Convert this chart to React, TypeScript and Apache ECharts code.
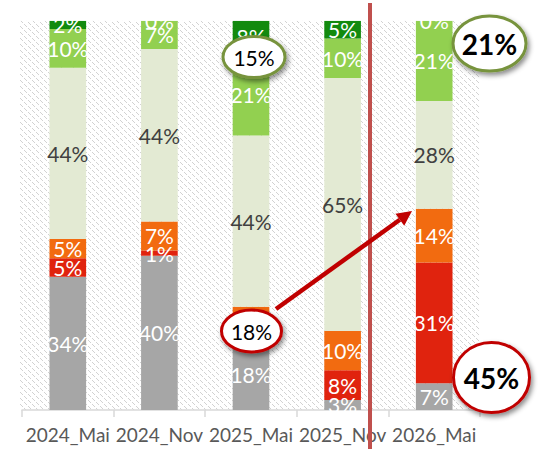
import React, { useEffect, useRef } from "react";
import * as echarts from "echarts";

const categories = ["2024_Mai", "2024_Nov", "2025_Mai", "2025_Nov", "2026_Mai"];
const greySeg = [34.2, 39.6, 18.0, 2.6, 6.9];
const redSeg = [4.8, 1.4, 3.0, 7.6, 31.0];
const orangeSeg = [4.9, 7.4, 5.5, 10.1, 13.8];
const creamSeg = [44.0, 44.3, 44.0, 65.0, 27.7];
const lightGreenSeg = [10.0, 7.3, 21.2, 10.1, 20.6];
const darkGreenSeg = [2.1, 0, 8.3, 4.6, 0];

const calloutTexts = ["15%", "21%", "18%", "45%"];

const FONT = "Lato, 'Liberation Sans', sans-serif";

function makeHatch(): HTMLCanvasElement {
  const c = document.createElement("canvas");
  c.width = 12;
  c.height = 12;
  const ctx = c.getContext("2d")!;
  ctx.fillStyle = "#ffffff";
  ctx.fillRect(0, 0, 12, 12);
  ctx.fillStyle = "#d2d2d2";
  for (let i = 0; i < 12; i++) {
    if (i % 4 === 3) continue;
    ctx.fillRect(i, i, 1, 1);
    ctx.fillRect(i, (i + 6) % 12, 1, 1);
  }
  return c;
}

export default function App() {
  const ref = useRef<HTMLDivElement>(null);
  useEffect(() => {
    document.body.style.margin = "0";
    if (!ref.current) return;
    const chart = echarts.init(ref.current, undefined, { renderer: "svg" });

    const mk = (name: string, data: number[], color: string, labelColor: string) => ({
      name,
      type: "bar",
      stack: "total",
      barWidth: "40%",
      data,
      itemStyle: { color },
      label: {
        show: true,
        position: "inside",
        formatter: (p: any) => Math.round(p.value) + "%",
        color: labelColor,
        fontSize: 21,
        fontFamily: FONT,
      },
    });

    const gridLeft = 22;
    const gridTop = 20.7;
    const gridW = 458;
    const gridH = 389.3;

    const tail = [276, 309];
    const tip = [412, 211];
    const dx = tip[0] - tail[0];
    const dy = tip[1] - tail[1];
    const len = Math.sqrt(dx * dx + dy * dy);
    const ux = dx / len;
    const uy = dy / len;
    const px = -uy;
    const py = ux;
    const hl = 15;
    const hw = 7.5;
    const base = [tip[0] - ux * hl, tip[1] - uy * hl];

    const ellipse = (cx: number, cy: number, rx: number, ry: number, stroke: string, text: string, bold: boolean, fs: number) => [
      {
        type: "ellipse",
        z: 70,
        shape: { cx, cy, rx, ry },
        style: {
          fill: "#ffffff",
          stroke,
          lineWidth: 3,
          shadowBlur: 5,
          shadowOffsetX: 2,
          shadowOffsetY: 3,
          shadowColor: "rgba(0,0,0,0.45)",
        },
      },
      {
        type: "text",
        z: 71,
        x: cx,
        y: cy,
        style: {
          text,
          fill: "#000000",
          font: `${bold ? "bold " : ""}${fs}px ${FONT}`,
          align: "center",
          verticalAlign: "middle",
        },
      },
    ];

    const hatch = makeHatch();

    chart.setOption({
      animation: false,
      grid: { left: gridLeft, top: gridTop, width: gridW, height: gridH },
      xAxis: {
        type: "category",
        data: categories,
        axisLine: { lineStyle: { color: "#d9d9d9", width: 1.5 } },
        axisTick: { show: true, length: 7, lineStyle: { color: "#d9d9d9", width: 1.5 } },
        axisLabel: { color: "#595959", fontSize: 19, fontFamily: FONT, margin: 15, interval: 0 },
      },
      yAxis: { type: "value", min: 0, max: 100, show: false, splitLine: { show: false } },
      series: [
        mk("grey", greySeg, "#a6a6a6", "#ffffff"),
        mk("red", redSeg, "#e0230e", "#ffffff"),
        mk("orange", orangeSeg, "#f26b10", "#ffffff"),
        mk("cream", creamSeg, "#e3ead3", "#404040"),
        mk("lightgreen", lightGreenSeg, "#92d050", "#ffffff"),
        mk("darkgreen", darkGreenSeg, "#128a0e", "#ffffff"),
      ],
      graphic: [
        {
          type: "rect",
          z: -10,
          shape: { x: gridLeft - 2, y: gridTop, width: gridW + 1, height: gridH },
          style: { fill: { image: hatch, repeat: "repeat", imageWidth: 12, imageHeight: 12 } as any },
        },
        {
          type: "rect",
          z: 50,
          shape: { x: 0, y: 0, width: 538, height: gridTop },
          style: { fill: "#ffffff" },
        },
        {
          type: "line",
          z: 60,
          shape: { x1: 370, y1: 3, x2: 370, y2: 449 },
          style: { stroke: "#c0504d", lineWidth: 4 },
        },
        {
          type: "line",
          z: 65,
          shape: { x1: tail[0], y1: tail[1], x2: base[0], y2: base[1] },
          style: { stroke: "#c00000", lineWidth: 4.5 },
        },
        {
          type: "polygon",
          z: 65,
          shape: {
            points: [
              tip,
              [base[0] + px * hw, base[1] + py * hw],
              [base[0] - px * hw, base[1] - py * hw],
            ],
          },
          style: { fill: "#c00000" },
        },
        ...ellipse(254, 57, 31, 20.5, "#77933c", calloutTexts[0], false, 21),
        ...ellipse(489.5, 43.5, 36.5, 27.5, "#77933c", calloutTexts[1], true, 28),
        ...ellipse(251.5, 331, 30, 21, "#c00000", calloutTexts[2], false, 21),
        ...ellipse(491.5, 377.5, 38, 35, "#c00000", calloutTexts[3], true, 28),
      ],
    });
    return () => chart.dispose();
  }, []);
  return <div ref={ref} style={{ width: 538, height: 449 }} />;
}
